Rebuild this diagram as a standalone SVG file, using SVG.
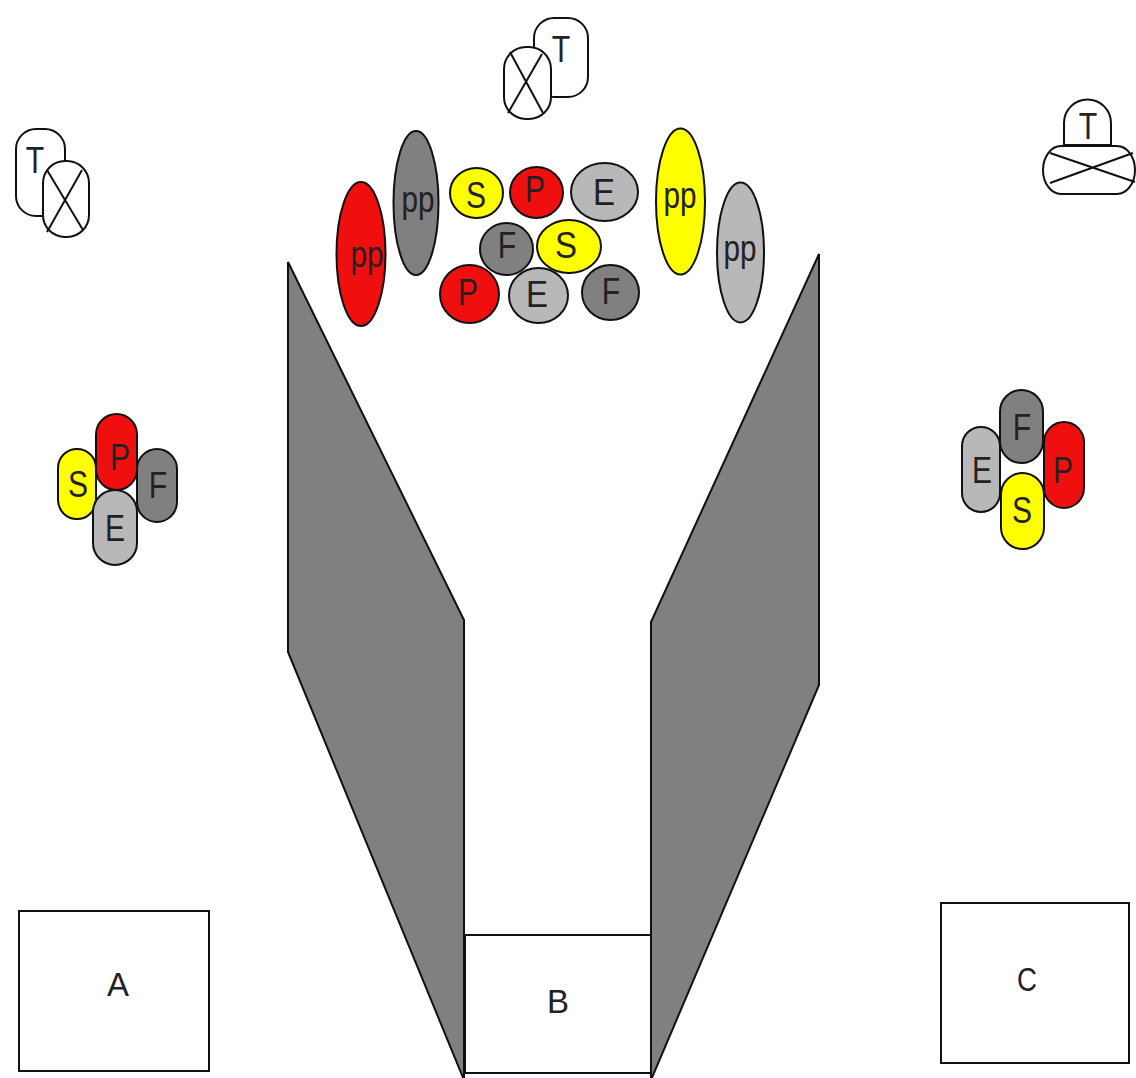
<svg xmlns="http://www.w3.org/2000/svg" width="1136" height="1078" viewBox="0 0 1136 1078">
<style>
.s{stroke:#111;stroke-width:2}
.w{fill:#fff}.r{fill:#f00f0f}.y{fill:#ffff00}.d{fill:#808080}.l{fill:#b8b8b8}
.x{stroke:#111;stroke-width:2;fill:none}
text{font-family:"Liberation Sans",Arial,sans-serif;fill:#222;text-anchor:middle}
.m{font-size:37px}.b{font-size:33px}.p{font-size:36px}
</style>
<rect width="1136" height="1078" fill="#fff"/>
<g id="funnel">
<polygon class="s d" points="288,262 464,620 464,1080 288,652"/>
<polygon class="s d" points="819,254 651,622 651,1080 819,685"/>
</g>
<g id="box-a"><rect class="s w" x="19" y="911" width="190" height="160"/><text class="b" x="118" y="996">A</text></g>
<g id="box-b"><rect class="s w" x="465" y="935" width="186" height="138"/><text class="b" x="558" y="1013">B</text></g>
<g id="box-c"><rect class="s w" x="941" y="903" width="188" height="160"/><text class="b" x="1027" y="991" textLength="20" lengthAdjust="spacingAndGlyphs">C</text></g>

<g id="top-t"><rect class="s w" x="534" y="18" width="54" height="79" rx="20"/><text class="m" x="561" y="62" textLength="18.500" lengthAdjust="spacingAndGlyphs">T</text></g>
<g id="top-x"><rect class="s w" x="504" y="47" width="47" height="72" rx="22"/><path class="x" d="M510,52L543,113M542,54L508,113"/></g>
<g id="left-t"><rect class="s w" x="16" y="129" width="49" height="87" rx="20"/><text class="m" x="35" y="173" textLength="18.500" lengthAdjust="spacingAndGlyphs">T</text></g>
<g id="left-x"><rect class="s w" x="43" y="161" width="46" height="76" rx="22"/><path class="x" d="M47,170L83,230M82,170L47,232"/></g>
<g id="right-t"><path class="s w" d="M1064,145V123A23.500,23.500 0 0 1 1111,123V145Z"/><text class="m" x="1088" y="139" textLength="18.500" lengthAdjust="spacingAndGlyphs">T</text></g>
<g id="right-x"><rect class="s w" x="1043" y="146" width="92" height="48" rx="18" ry="24"/><path class="x" d="M1050,153L1135,182M1133,153L1050,183"/></g>

<g id="pp-red"><ellipse class="s r" cx="361" cy="254" rx="24.500" ry="72"/><text class="p" x="367" y="267" textLength="33" lengthAdjust="spacingAndGlyphs">pp</text></g>
<g id="pp-dark"><ellipse class="s d" cx="416" cy="203" rx="22.500" ry="72"/><text class="p" x="418" y="212" textLength="33" lengthAdjust="spacingAndGlyphs">pp</text></g>
<g id="pp-yellow"><ellipse class="s y" cx="680.500" cy="201.500" rx="24.500" ry="73"/><text class="p" x="680" y="208" textLength="33" lengthAdjust="spacingAndGlyphs">pp</text></g>
<g id="pp-light"><ellipse class="s l" cx="740.500" cy="252.500" rx="23.500" ry="70"/><text class="p" x="740" y="261" textLength="33" lengthAdjust="spacingAndGlyphs">pp</text></g>

<g id="s1"><ellipse class="s y" cx="476.500" cy="193" rx="26.500" ry="25"/><text class="m" x="476" y="208" textLength="20" lengthAdjust="spacingAndGlyphs">S</text></g>
<g id="p1"><ellipse class="s r" cx="536.500" cy="192.500" rx="26.500" ry="25.500"/><text class="m" x="535" y="202" textLength="20" lengthAdjust="spacingAndGlyphs">P</text></g>
<g id="e1"><ellipse class="s l" cx="604.500" cy="192" rx="33.500" ry="29"/><text class="m" x="604" y="205" textLength="22" lengthAdjust="spacingAndGlyphs">E</text></g>
<g id="f1"><ellipse class="s d" cx="506.500" cy="249" rx="26.500" ry="26"/><text class="m" x="507" y="258" textLength="18.500" lengthAdjust="spacingAndGlyphs">F</text></g>
<g id="s2"><ellipse class="s y" cx="569" cy="246.500" rx="32" ry="26.500"/><text class="m" x="566" y="258" textLength="22" lengthAdjust="spacingAndGlyphs">S</text></g>
<g id="p2"><ellipse class="s r" cx="469.500" cy="294" rx="29.500" ry="29"/><text class="m" x="468" y="305" textLength="20" lengthAdjust="spacingAndGlyphs">P</text></g>
<g id="e2"><ellipse class="s l" cx="538.500" cy="295.500" rx="29.500" ry="27.500"/><text class="m" x="537" y="307" textLength="22" lengthAdjust="spacingAndGlyphs">E</text></g>
<g id="f2"><ellipse class="s d" cx="610.500" cy="292.500" rx="28.500" ry="27.500"/><text class="m" x="611" y="304" textLength="18.500" lengthAdjust="spacingAndGlyphs">F</text></g>

<g id="left-s"><rect class="s y" x="58" y="449" width="38" height="70" rx="19"/><text class="m" x="78" y="497" textLength="20" lengthAdjust="spacingAndGlyphs">S</text></g>
<g id="left-f"><rect class="s d" x="137" y="449" width="40" height="73" rx="20"/><text class="m" x="158" y="498" textLength="18.500" lengthAdjust="spacingAndGlyphs">F</text></g>
<g id="left-e"><rect class="s l" x="93" y="490" width="44" height="75" rx="22"/><text class="m" x="115" y="541" textLength="20" lengthAdjust="spacingAndGlyphs">E</text></g>
<g id="left-p"><rect class="s r" x="96" y="414" width="41" height="76" rx="20.500"/><text class="m" x="120" y="470" textLength="20" lengthAdjust="spacingAndGlyphs">P</text></g>

<g id="right-e"><rect class="s l" x="962" y="427" width="38" height="85" rx="19"/><text class="m" x="982" y="483" textLength="20" lengthAdjust="spacingAndGlyphs">E</text></g>
<g id="right-p"><rect class="s r" x="1044" y="422" width="40" height="86" rx="20"/><text class="m" x="1063" y="483" textLength="20" lengthAdjust="spacingAndGlyphs">P</text></g>
<g id="right-f"><rect class="s d" x="1000" y="390" width="43" height="73" rx="21.500"/><text class="m" x="1022" y="440" textLength="18.500" lengthAdjust="spacingAndGlyphs">F</text></g>
<g id="right-s"><rect class="s y" x="1001" y="473" width="43" height="76" rx="21.500"/><text class="m" x="1022" y="523" textLength="20" lengthAdjust="spacingAndGlyphs">S</text></g>
</svg>
